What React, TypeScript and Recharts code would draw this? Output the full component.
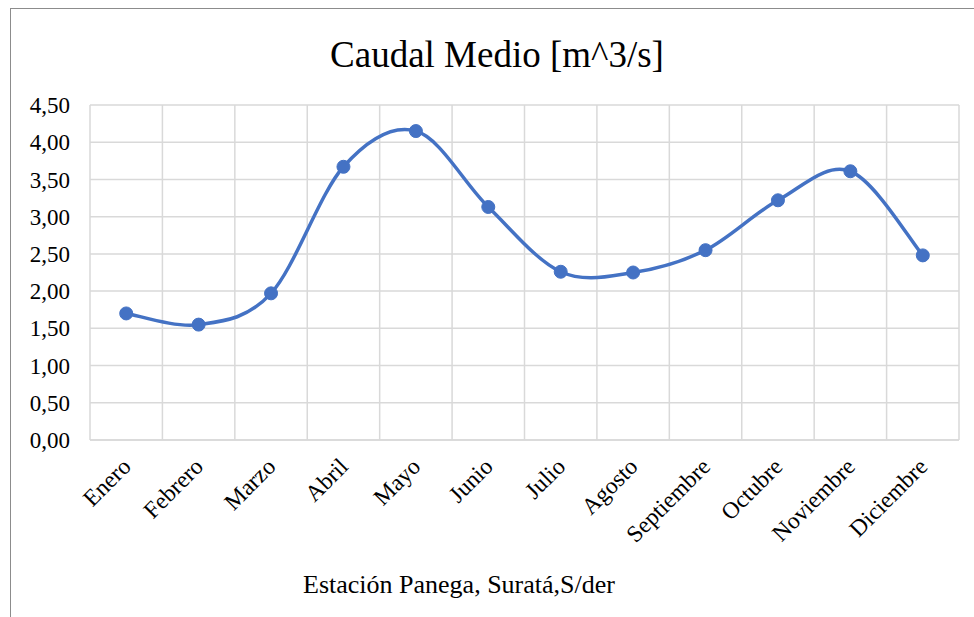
import React from 'react';
import { LineChart, Line, XAxis, YAxis, CartesianGrid } from 'recharts';

const months = ['Enero', 'Febrero', 'Marzo', 'Abril', 'Mayo', 'Junio', 'Julio', 'Agosto', 'Septiembre', 'Octubre', 'Noviembre', 'Diciembre'];
const caudal = [1.70, 1.55, 1.97, 3.67, 4.15, 3.13, 2.26, 2.25, 2.55, 3.22, 3.61, 2.48];
const yTicks = [0, 0.5, 1, 1.5, 2, 2.5, 3, 3.5, 4, 4.5];
const title = 'Caudal Medio [m^3/s]';
const subtitle = 'Estación Panega, Suratá,S/der';

const data = months.map((m, i) => ({ x: i + 0.5, month: m, caudal: caudal[i] }));
const labelTicks = months.map((_, i) => i + 0.5);
const gridTicks = Array.from({ length: months.length + 1 }, (_, i) => i);

const FONT = '"Liberation Serif", "Times New Roman", serif';
const BLUE = '#4472C4';

// Excel-like smoothed line (Catmull-Rom as cubic Bezier)
function excelCurve(context: any) {
  let pts: number[][] = [];
  return {
    areaStart() {},
    areaEnd() {},
    lineStart() { pts = []; },
    point(x: number, y: number) { pts.push([+x, +y]); },
    lineEnd() {
      const n = pts.length;
      if (!n) return;
      context.moveTo(pts[0][0], pts[0][1]);
      for (let i = 0; i < n - 1; i++) {
        const p0 = pts[Math.max(i - 1, 0)];
        const p1 = pts[i];
        const p2 = pts[i + 1];
        const p3 = pts[Math.min(i + 2, n - 1)];
        const c1x = p1[0] + (p2[0] - p0[0]) / 6;
        const c1y = p1[1] + (p2[1] - p0[1]) / 6;
        const c2x = p2[0] - (p3[0] - p1[0]) / 6;
        const c2y = p2[1] - (p3[1] - p1[1]) / 6;
        context.bezierCurveTo(c1x, c1y, c2x, c2y, p2[0], p2[1]);
      }
    },
  };
}

const XTick = (props: any) => {
  const { x, y, payload } = props;
  const label = months[Math.floor(payload.value)];
  return (
    <g transform={`translate(${x + 6},${y + 20})`}>
      <text x={0} y={0} textAnchor="end" transform="rotate(-45)" fill="#000" fontSize={23.5} fontFamily={FONT}>
        {label}
      </text>
    </g>
  );
};

export default function App() {
  return (
    <div style={{ position: 'absolute', left: 0, top: 0, width: 974, height: 617, overflow: 'hidden', background: '#fff' }}>
      <div style={{ position: 'absolute', left: 10, top: 8, width: 1000, height: 700, border: '1.5px solid #8c8c8c', boxSizing: 'border-box' }} />
      <div style={{ position: 'absolute', left: 0, width: 994, top: 30, textAlign: 'center', fontFamily: FONT, fontSize: 37, lineHeight: '50px', color: '#000' }}>
        {title}
      </div>
      <div style={{ position: 'absolute', left: 0, width: 918, top: 569, textAlign: 'center', fontFamily: FONT, fontSize: 26, lineHeight: '32px', color: '#000' }}>
        {subtitle}
      </div>
      <div style={{ position: 'absolute', left: 0, top: 0 }}>
        <LineChart width={974} height={617} data={data} margin={{ top: 105, right: 15, bottom: 97, left: 30 }}>
          <CartesianGrid xAxisId="grid" stroke="#d9d9d9" strokeWidth={1.5} vertical horizontal />
          <XAxis xAxisId="grid" dataKey="x" type="number" domain={[0, 12]} ticks={gridTicks} hide />
          <XAxis
            dataKey="x"
            type="number"
            domain={[0, 12]}
            ticks={labelTicks}
            interval={0}
            tick={<XTick />}
            tickLine={false}
            axisLine={{ stroke: '#d9d9d9', strokeWidth: 1.5 }}
            height={80}
          />
          <YAxis
            domain={[0, 4.5]}
            ticks={yTicks}
            interval={0}
            width={60}
            axisLine={false}
            tickLine={false}
            tickSize={0}
            tickMargin={20}
            tickFormatter={(v: number) => v.toFixed(2).replace('.', ',')}
            tick={{ fill: '#000', fontSize: 23, fontFamily: FONT }}
          />
          <Line
            dataKey="caudal"
            type={excelCurve as any}
            stroke={BLUE}
            strokeWidth={3.5}
            dot={{ r: 6.5, fill: BLUE, stroke: BLUE, strokeWidth: 1 }}
            activeDot={false}
            isAnimationActive={false}
          />
        </LineChart>
      </div>
    </div>
  );
}
